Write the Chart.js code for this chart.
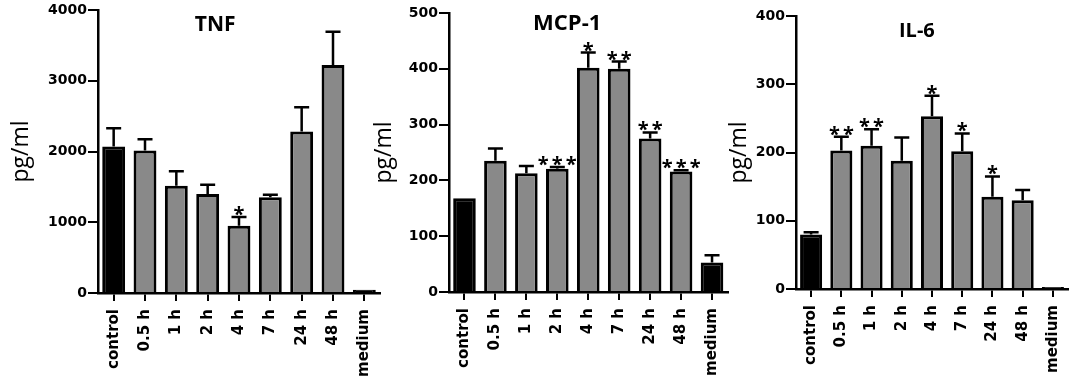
<!DOCTYPE html>
<html>
<head>
<meta charset="utf-8">
<script src="https://cdn.jsdelivr.net/npm/chart.js@4"></script>
<style>
  body { margin: 0; background: #fff; width: 1084px; height: 391px; position: relative; overflow: hidden; }
  canvas { position: absolute; top: 0; }
</style>
</head>
<body>
<canvas id="tnfChart" width="392" height="391" style="left:0px"></canvas>
<canvas id="mcpChart" width="372" height="391" style="left:370px"></canvas>
<canvas id="il6Chart" width="364" height="391" style="left:720px"></canvas>
<script>
const categories = ["control", "0.5 h", "1 h", "2 h", "4 h", "7 h", "24 h", "48 h", "medium"];

const tnfValues = [2070, 2014, 1515, 1398, 950, 1355, 2282, 3224, 47];
const tnfErrors = [260, 160, 207, 131, 123, 33, 344, 470, 0];
const tnfStars  = ["", "", "", "", "*", "", "", "", ""];

const mcpValues = [168, 235, 213, 221, 402, 400, 275, 216, 53];
const mcpErrors = [0, 22, 13, 3, 27, 13, 11, 2, 13];
const mcpStars  = ["", "", "", "***", "*", "**", "**", "***", ""];

const il6Values = [80, 203, 210, 188, 253, 202, 135, 130, 3];
const il6Errors = [3, 20, 24, 34, 30, 26, 30, 15, 0];
const il6Stars  = ["", "**", "**", "", "*", "*", "*", "", ""];

const BLACK = "#000";
const GRAY = "#898989";
const FONT = "'Open Sans', 'DejaVu Sans', sans-serif";
const TICK_FONT = "'DejaVu Sans', sans-serif";

// error bars (upper only) + significance stars + panel title
const errorBarPlugin = {
  id: "errorBars",
  afterDatasetsDraw(chart, args, opts) {
    const ctx = chart.ctx;
    const yScale = chart.scales.y;
    const xScale = chart.scales.x;
    const values = chart.data.datasets[0].data;
    const meta = chart.getDatasetMeta(0);
    ctx.save();
    ctx.strokeStyle = BLACK;
    ctx.fillStyle = BLACK;
    ctx.lineWidth = 2.5;
    meta.data.forEach((bar, i) => {
      const err = opts.errors[i];
      const top = yScale.getPixelForValue(values[i] + err);
      if (err > 0) {
        ctx.beginPath();
        ctx.moveTo(bar.x, bar.y);
        ctx.lineTo(bar.x, top);
        ctx.moveTo(bar.x - 7.5, top);
        ctx.lineTo(bar.x + 7.5, top);
        ctx.stroke();
      }
      const s = opts.stars[i];
      if (s) {
        ctx.font = "bold 20px " + FONT;
        ctx.textAlign = "center";
        ctx.textBaseline = "alphabetic";
        for (let k = 0; k < s.length; k++) {
          const sx = bar.x + (k - (s.length - 1) / 2) * 14;
          ctx.fillText("*", sx, top + 4);
        }
      }
    });
    // panel title inside plot area
    ctx.font = "bold " + opts.titleSize + "px " + FONT;
    ctx.textAlign = "center";
    ctx.textBaseline = "middle";
    ctx.fillText(opts.title, xScale.getPixelForValue(opts.titleAt), chart.chartArea.top + opts.titleDy);
    ctx.restore();
  }
};

function makePanel(id, values, errors, stars, yMax, yStep, g) {
  const colors = categories.map(c => (c === "control" || c === "medium") ? BLACK : GRAY);
  return new Chart(document.getElementById(id), {
    type: "bar",
    data: {
      labels: categories,
      datasets: [{
        data: values,
        backgroundColor: colors,
        borderColor: BLACK,
        borderWidth: 3,
        barPercentage: 0.73,
        categoryPercentage: 1.0
      }]
    },
    options: {
      responsive: false,
      animation: false,
      layout: { padding: { top: g.top, right: g.right, bottom: 0, left: 0 } },
      plugins: {
        legend: { display: false },
        tooltip: { enabled: false },
        errorBars: { errors: errors, stars: stars, title: g.title, titleAt: g.titleAt, titleDy: g.titleDy, titleSize: g.titleSize }
      },
      scales: {
        x: {
          afterFit: s => { s.height = g.xHeight; },
          grid: { drawOnChartArea: false, offset: false, color: BLACK, lineWidth: 2, tickLength: 8 },
          border: { color: BLACK, width: 2.5 },
          ticks: {
            color: BLACK, autoSkip: false, maxRotation: 90, minRotation: 90, padding: 8,
            font: { family: TICK_FONT, size: 15, weight: "bold" }
          }
        },
        y: {
          min: 0, max: yMax,
          afterFit: s => { s.width = g.yWidth; },
          grid: { drawOnChartArea: false, color: BLACK, lineWidth: 2, tickLength: 10 },
          border: { color: BLACK, width: 2.5 },
          ticks: {
            stepSize: yStep, color: BLACK, padding: 1,
            callback: v => String(v),
            font: { family: TICK_FONT, size: 14, weight: "bold" }
          },
          title: {
            display: true, text: "pg/ml", color: BLACK,
            padding: { top: g.titlePad, bottom: 0 },
            font: { family: FONT, size: 23, weight: "normal" }
          }
        }
      }
    },
    plugins: [errorBarPlugin]
  });
}

makePanel("tnfChart", tnfValues, tnfErrors, tnfStars, 4000, 1000,
  { top: 10, right: 12, xHeight: 98, yWidth: 98, titlePad: 8, title: "TNF", titleAt: 3.24, titleDy: 15, titleSize: 21 });
makePanel("mcpChart", mcpValues, mcpErrors, mcpStars, 500, 100,
  { top: 13, right: 14.5, xHeight: 99, yWidth: 79, titlePad: 1, title: "MCP-1", titleAt: 3.32, titleDy: 11, titleSize: 22 });
makePanel("il6Chart", il6Values, il6Errors, il6Stars, 400, 100,
  { top: 16, right: 16, xHeight: 102, yWidth: 76, titlePad: 6, title: "IL-6", titleAt: 3.5, titleDy: 15, titleSize: 20 });
</script>
</body>
</html>
